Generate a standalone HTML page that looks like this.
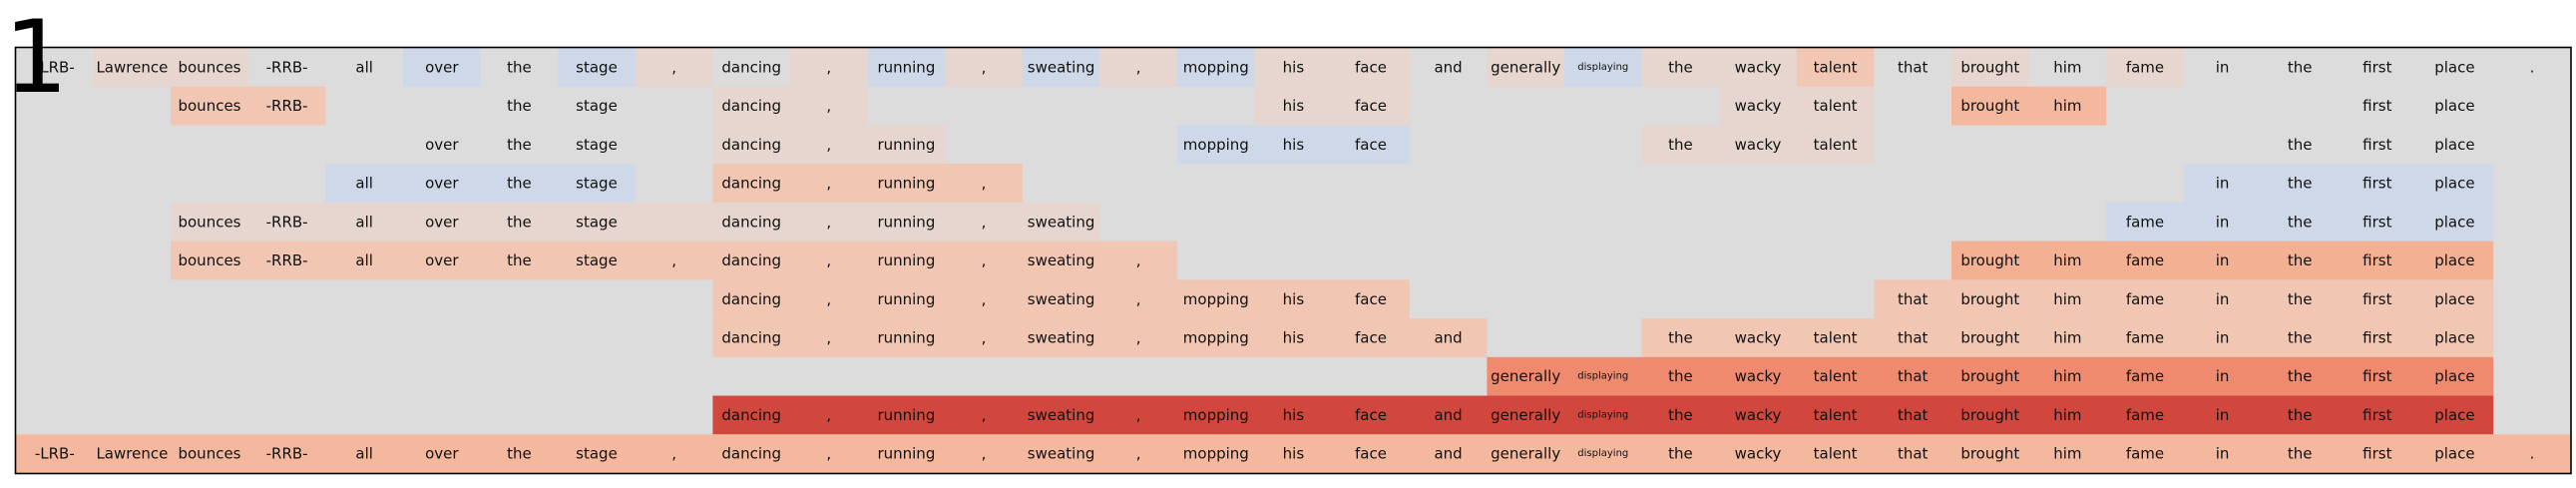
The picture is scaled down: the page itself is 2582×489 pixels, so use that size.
<!DOCTYPE html>
<html><head><meta charset="utf-8"><style>
html,body{margin:0;padding:0;background:#fff;}
svg{display:block;}
text{font-family:"DejaVu Sans","Liberation Sans",sans-serif;font-size:15px;fill:#111;text-anchor:middle;dominant-baseline:central;}
text.s{font-size:10px;}
text.big{font-family:"DejaVu Sans",sans-serif;font-size:101px;text-anchor:start;dominant-baseline:alphabetic;fill:#000;}
.B{fill:#e6d6cf}.U{fill:#cfd8e8}.S{fill:#f1c6b2}.S2{fill:#f4b89e}.D{fill:#f4b093}.O{fill:#ef8a6f}.R{fill:#d1473d}
</style></head><body>
<svg width="2582" height="489" viewBox="0 0 2582 489" xmlns="http://www.w3.org/2000/svg">
<rect x="16" y="48" width="2560.8" height="426" fill="#dcdcdc"/>
<g transform="translate(0,48)">
<rect class="B" x="93.6" width="155.2" height="38.8"/>
<rect class="U" x="404" width="77.6" height="38.8"/>
<rect class="U" x="559.2" width="77.6" height="38.8"/>
<rect class="B" x="636.8" width="77.6" height="38.8"/>
<rect class="B" x="792" width="77.6" height="38.8"/>
<rect class="U" x="869.6" width="77.6" height="38.8"/>
<rect class="B" x="947.2" width="77.6" height="38.8"/>
<rect class="U" x="1024.8" width="77.6" height="38.8"/>
<rect class="B" x="1102.4" width="77.6" height="38.8"/>
<rect class="U" x="1180" width="77.6" height="38.8"/>
<rect class="B" x="1257.6" width="155.2" height="38.8"/>
<rect class="B" x="1490.4" width="77.6" height="38.8"/>
<rect class="U" x="1568" width="77.6" height="38.8"/>
<rect class="B" x="1645.6" width="155.2" height="38.8"/>
<rect class="S" x="1800.8" width="77.6" height="38.8"/>
<rect class="B" x="1956" width="77.6" height="38.8"/>
<rect class="B" x="2111.2" width="77.6" height="38.8"/>
<text x="54.8" y="19.4">-LRB-</text><text x="132.4" y="19.4">Lawrence</text><text x="210" y="19.4">bounces</text><text x="287.6" y="19.4">-RRB-</text><text x="365.2" y="19.4">all</text><text x="442.8" y="19.4">over</text><text x="520.4" y="19.4">the</text><text x="598" y="19.4">stage</text><text x="675.6" y="19.4">,</text><text x="753.2" y="19.4">dancing</text><text x="830.8" y="19.4">,</text><text x="908.4" y="19.4">running</text><text x="986" y="19.4">,</text><text x="1063.6" y="19.4">sweating</text><text x="1141.2" y="19.4">,</text><text x="1218.8" y="19.4">mopping</text><text x="1296.4" y="19.4">his</text><text x="1374" y="19.4">face</text><text x="1451.6" y="19.4">and</text><text x="1529.2" y="19.4">generally</text><text class="s" x="1606.8" y="19.4">displaying</text><text x="1684.4" y="19.4">the</text><text x="1762" y="19.4">wacky</text><text x="1839.6" y="19.4">talent</text><text x="1917.2" y="19.4">that</text><text x="1994.8" y="19.4">brought</text><text x="2072.4" y="19.4">him</text><text x="2150" y="19.4">fame</text><text x="2227.6" y="19.4">in</text><text x="2305.2" y="19.4">the</text><text x="2382.8" y="19.4">first</text><text x="2460.4" y="19.4">place</text><text x="2538" y="19.4">.</text>
</g>
<g transform="translate(0,86.7)">
<rect class="S" x="171.2" width="155.2" height="38.8"/>
<rect class="B" x="714.4" width="155.2" height="38.8"/>
<rect class="B" x="1257.6" width="155.2" height="38.8"/>
<rect class="B" x="1723.2" width="155.2" height="38.8"/>
<rect class="S2" x="1956" width="155.2" height="38.8"/>
<text x="210" y="19.4">bounces</text><text x="287.6" y="19.4">-RRB-</text><text x="520.4" y="19.4">the</text><text x="598" y="19.4">stage</text><text x="753.2" y="19.4">dancing</text><text x="830.8" y="19.4">,</text><text x="1296.4" y="19.4">his</text><text x="1374" y="19.4">face</text><text x="1762" y="19.4">wacky</text><text x="1839.6" y="19.4">talent</text><text x="1994.8" y="19.4">brought</text><text x="2072.4" y="19.4">him</text><text x="2382.8" y="19.4">first</text><text x="2460.4" y="19.4">place</text>
</g>
<g transform="translate(0,125.5)">
<rect class="B" x="714.4" width="232.8" height="38.8"/>
<rect class="U" x="1180" width="232.8" height="38.8"/>
<rect class="B" x="1645.6" width="232.8" height="38.8"/>
<text x="442.8" y="19.4">over</text><text x="520.4" y="19.4">the</text><text x="598" y="19.4">stage</text><text x="753.2" y="19.4">dancing</text><text x="830.8" y="19.4">,</text><text x="908.4" y="19.4">running</text><text x="1218.8" y="19.4">mopping</text><text x="1296.4" y="19.4">his</text><text x="1374" y="19.4">face</text><text x="1684.4" y="19.4">the</text><text x="1762" y="19.4">wacky</text><text x="1839.6" y="19.4">talent</text><text x="2305.2" y="19.4">the</text><text x="2382.8" y="19.4">first</text><text x="2460.4" y="19.4">place</text>
</g>
<g transform="translate(0,164.2)">
<rect class="U" x="326.4" width="310.4" height="38.8"/>
<rect class="S" x="714.4" width="310.4" height="38.8"/>
<rect class="U" x="2188.8" width="310.4" height="38.8"/>
<text x="365.2" y="19.4">all</text><text x="442.8" y="19.4">over</text><text x="520.4" y="19.4">the</text><text x="598" y="19.4">stage</text><text x="753.2" y="19.4">dancing</text><text x="830.8" y="19.4">,</text><text x="908.4" y="19.4">running</text><text x="986" y="19.4">,</text><text x="2227.6" y="19.4">in</text><text x="2305.2" y="19.4">the</text><text x="2382.8" y="19.4">first</text><text x="2460.4" y="19.4">place</text>
</g>
<g transform="translate(0,202.9)">
<rect class="B" x="171.2" width="931.2" height="38.8"/>
<rect class="U" x="2111.2" width="388" height="38.8"/>
<text x="210" y="19.4">bounces</text><text x="287.6" y="19.4">-RRB-</text><text x="365.2" y="19.4">all</text><text x="442.8" y="19.4">over</text><text x="520.4" y="19.4">the</text><text x="598" y="19.4">stage</text><text x="753.2" y="19.4">dancing</text><text x="830.8" y="19.4">,</text><text x="908.4" y="19.4">running</text><text x="986" y="19.4">,</text><text x="1063.6" y="19.4">sweating</text><text x="2150" y="19.4">fame</text><text x="2227.6" y="19.4">in</text><text x="2305.2" y="19.4">the</text><text x="2382.8" y="19.4">first</text><text x="2460.4" y="19.4">place</text>
</g>
<g transform="translate(0,241.6)">
<rect class="S" x="171.2" width="1008.8" height="38.8"/>
<rect class="D" x="1956" width="543.2" height="38.8"/>
<text x="210" y="19.4">bounces</text><text x="287.6" y="19.4">-RRB-</text><text x="365.2" y="19.4">all</text><text x="442.8" y="19.4">over</text><text x="520.4" y="19.4">the</text><text x="598" y="19.4">stage</text><text x="675.6" y="19.4">,</text><text x="753.2" y="19.4">dancing</text><text x="830.8" y="19.4">,</text><text x="908.4" y="19.4">running</text><text x="986" y="19.4">,</text><text x="1063.6" y="19.4">sweating</text><text x="1141.2" y="19.4">,</text><text x="1994.8" y="19.4">brought</text><text x="2072.4" y="19.4">him</text><text x="2150" y="19.4">fame</text><text x="2227.6" y="19.4">in</text><text x="2305.2" y="19.4">the</text><text x="2382.8" y="19.4">first</text><text x="2460.4" y="19.4">place</text>
</g>
<g transform="translate(0,280.4)">
<rect class="S" x="714.4" width="698.4" height="38.8"/>
<rect class="S" x="1878.4" width="620.8" height="38.8"/>
<text x="753.2" y="19.4">dancing</text><text x="830.8" y="19.4">,</text><text x="908.4" y="19.4">running</text><text x="986" y="19.4">,</text><text x="1063.6" y="19.4">sweating</text><text x="1141.2" y="19.4">,</text><text x="1218.8" y="19.4">mopping</text><text x="1296.4" y="19.4">his</text><text x="1374" y="19.4">face</text><text x="1917.2" y="19.4">that</text><text x="1994.8" y="19.4">brought</text><text x="2072.4" y="19.4">him</text><text x="2150" y="19.4">fame</text><text x="2227.6" y="19.4">in</text><text x="2305.2" y="19.4">the</text><text x="2382.8" y="19.4">first</text><text x="2460.4" y="19.4">place</text>
</g>
<g transform="translate(0,319.1)">
<rect class="S" x="714.4" width="776" height="38.8"/>
<rect class="S" x="1645.6" width="853.6" height="38.8"/>
<text x="753.2" y="19.4">dancing</text><text x="830.8" y="19.4">,</text><text x="908.4" y="19.4">running</text><text x="986" y="19.4">,</text><text x="1063.6" y="19.4">sweating</text><text x="1141.2" y="19.4">,</text><text x="1218.8" y="19.4">mopping</text><text x="1296.4" y="19.4">his</text><text x="1374" y="19.4">face</text><text x="1451.6" y="19.4">and</text><text x="1684.4" y="19.4">the</text><text x="1762" y="19.4">wacky</text><text x="1839.6" y="19.4">talent</text><text x="1917.2" y="19.4">that</text><text x="1994.8" y="19.4">brought</text><text x="2072.4" y="19.4">him</text><text x="2150" y="19.4">fame</text><text x="2227.6" y="19.4">in</text><text x="2305.2" y="19.4">the</text><text x="2382.8" y="19.4">first</text><text x="2460.4" y="19.4">place</text>
</g>
<g transform="translate(0,357.8)">
<rect class="O" x="1490.4" width="1008.8" height="38.8"/>
<text x="1529.2" y="19.4">generally</text><text class="s" x="1606.8" y="19.4">displaying</text><text x="1684.4" y="19.4">the</text><text x="1762" y="19.4">wacky</text><text x="1839.6" y="19.4">talent</text><text x="1917.2" y="19.4">that</text><text x="1994.8" y="19.4">brought</text><text x="2072.4" y="19.4">him</text><text x="2150" y="19.4">fame</text><text x="2227.6" y="19.4">in</text><text x="2305.2" y="19.4">the</text><text x="2382.8" y="19.4">first</text><text x="2460.4" y="19.4">place</text>
</g>
<g transform="translate(0,396.5)">
<rect class="R" x="714.4" width="1784.8" height="38.8"/>
<text x="753.2" y="19.4">dancing</text><text x="830.8" y="19.4">,</text><text x="908.4" y="19.4">running</text><text x="986" y="19.4">,</text><text x="1063.6" y="19.4">sweating</text><text x="1141.2" y="19.4">,</text><text x="1218.8" y="19.4">mopping</text><text x="1296.4" y="19.4">his</text><text x="1374" y="19.4">face</text><text x="1451.6" y="19.4">and</text><text x="1529.2" y="19.4">generally</text><text class="s" x="1606.8" y="19.4">displaying</text><text x="1684.4" y="19.4">the</text><text x="1762" y="19.4">wacky</text><text x="1839.6" y="19.4">talent</text><text x="1917.2" y="19.4">that</text><text x="1994.8" y="19.4">brought</text><text x="2072.4" y="19.4">him</text><text x="2150" y="19.4">fame</text><text x="2227.6" y="19.4">in</text><text x="2305.2" y="19.4">the</text><text x="2382.8" y="19.4">first</text><text x="2460.4" y="19.4">place</text>
</g>
<g transform="translate(0,435.3)">
<rect class="S2" x="16" width="2560.8" height="38.8"/>
<text x="54.8" y="19.4">-LRB-</text><text x="132.4" y="19.4">Lawrence</text><text x="210" y="19.4">bounces</text><text x="287.6" y="19.4">-RRB-</text><text x="365.2" y="19.4">all</text><text x="442.8" y="19.4">over</text><text x="520.4" y="19.4">the</text><text x="598" y="19.4">stage</text><text x="675.6" y="19.4">,</text><text x="753.2" y="19.4">dancing</text><text x="830.8" y="19.4">,</text><text x="908.4" y="19.4">running</text><text x="986" y="19.4">,</text><text x="1063.6" y="19.4">sweating</text><text x="1141.2" y="19.4">,</text><text x="1218.8" y="19.4">mopping</text><text x="1296.4" y="19.4">his</text><text x="1374" y="19.4">face</text><text x="1451.6" y="19.4">and</text><text x="1529.2" y="19.4">generally</text><text class="s" x="1606.8" y="19.4">displaying</text><text x="1684.4" y="19.4">the</text><text x="1762" y="19.4">wacky</text><text x="1839.6" y="19.4">talent</text><text x="1917.2" y="19.4">that</text><text x="1994.8" y="19.4">brought</text><text x="2072.4" y="19.4">him</text><text x="2150" y="19.4">fame</text><text x="2227.6" y="19.4">in</text><text x="2305.2" y="19.4">the</text><text x="2382.8" y="19.4">first</text><text x="2460.4" y="19.4">place</text><text x="2538" y="19.4">.</text>
</g>
<rect x="15.5" y="47.5" width="2561.5" height="427" fill="none" stroke="#000" stroke-width="1.6"/>
<text class="big" x="4" y="92">1</text>
</svg>
</body></html>
